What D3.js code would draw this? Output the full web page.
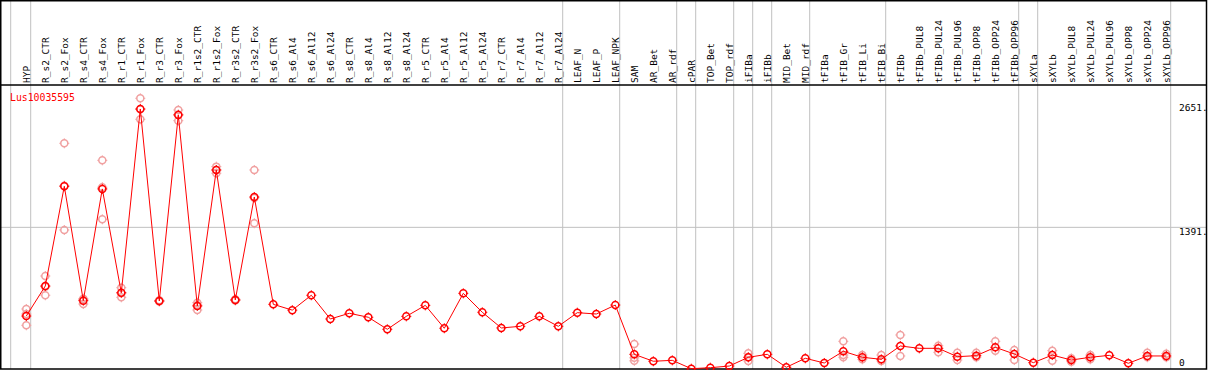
<!DOCTYPE html>
<html>
<head>
<meta charset="utf-8">
<script src="https://cdn.jsdelivr.net/npm/d3@7"></script>
<style>
  body { margin: 0; background: #fff; }
  text { font-family: "DejaVu Sans Mono", monospace; }
</style>
</head>
<body>
<div id="chart"></div>
<script>
// expression profile for one gene, mean (line) + replicates (pale circles)
var geneName = "Lus10035595";

var categories = [
  "HYP", "R_s2_CTR", "R_s2_Fox", "R_s4_CTR", "R_s4_Fox", "R_r1_CTR", "R_r1_Fox",
  "R_r3_CTR", "R_r3_Fox", "R_r1s2_CTR", "R_r1s2_Fox", "R_r3s2_CTR", "R_r3s2_Fox",
  "R_s6_CTR", "R_s6_Al4", "R_s6_Al12", "R_s6_Al24", "R_s8_CTR", "R_s8_Al4",
  "R_s8_Al12", "R_s8_Al24", "R_r5_CTR", "R_r5_Al4", "R_r5_Al12", "R_r5_Al24",
  "R_r7_CTR", "R_r7_Al4", "R_r7_Al12", "R_r7_Al24", "LEAF_N", "LEAF_P", "LEAF_NPK",
  "SAM", "AR_Bet", "AR_rdf", "cPAR", "TOP_Bet", "TOP_rdf", "iFIBa", "iFIBb",
  "MID_Bet", "MID_rdf", "tFIBa", "tFIB_Gr", "tFIB_Li", "tFIB_Bi", "tFIBb",
  "tFIBb_PUL8", "tFIBb_PUL24", "tFIBb_PUL96", "tFIBb_OPP8", "tFIBb_OPP24", "tFIBb_OPP96",
  "sXYLa", "sXYLb", "sXYLb_PUL8", "sXYLb_PUL24", "sXYLb_PUL96", "sXYLb_OPP8",
  "sXYLb_OPP24", "sXYLb_OPP96"
];

var meanValues = [
  520, 815, 1794, 671, 1768, 749, 2553, 668, 2494, 619, 1954, 678, 1689,
  635, 578, 724, 491, 547, 508, 390, 517, 625, 400, 743, 557, 403, 419, 517, 419,
  553, 540, 628, 144, 76, 85, 3, 13, 29, 115, 144, 17, 105, 59, 174, 115, 95,
  226, 203, 203, 121, 131, 213, 147, 62, 137, 88, 115, 134, 56, 128, 128
];

// replicate values (only where they show apart from the mean)
var repValues = [
  [589, 429, 540], [913, 724, 808], [2216, 1365, 1800], [684, 638, 690],
  [2049, 1470, 1785], [798, 704, 745], [2658, 2452, 2550], [675, 662, 668],
  [2543, 2438, 2500], [651, 579, 627], [1987, 1922, 1954], [685, 672, 678],
  [1954, 1431, 1680],
  [], [], [], [], [], [], [], [], [], [], [], [], [], [], [], [], [], [], [],
  [245, 110, 80], [], [], [], [], [], [154, 79, 115], [], [], [], [],
  [272, 115, 137], [137, 95], [137, 79], [334, 128], [], [229, 164], [160, 88],
  [160, 115], [272, 180], [187, 88], [], [180, 82], [105, 72], [137, 95], [],
  [], [160, 115], [150, 115]
];

// last sample of each group: a grey divider is drawn right of it
var groupEnds = ["HYP", "R_r7_Al24", "LEAF_NPK", "AR_rdf", "cPAR", "TOP_rdf", "iFIBa",
  "iFIBb", "MID_rdf", "tFIB_Bi", "tFIBb_OPP96", "sXYLa", "sXYLb_OPP96"];

var yTicks = [0, 1391, 2651];
var yMax = 2651;

var width = 1209, height = 370;
var headerY = 85, bottomY = 369, rightX = 1206.5;

var svg = d3.select("#chart").append("svg")
  .attr("width", width)
  .attr("height", height);

var x = d3.scalePoint()
  .domain(categories)
  .range([26.3, 1166.3]);

var y = d3.scaleLinear()
  .domain([0, yMax])
  .range([bottomY, 99]);

// vertical dividers
var dividers = [x("HYP") - 15.6].concat(groupEnds.map(function(c) { return x(c) + 4.4; }));
svg.selectAll(".vdiv").data(dividers).enter().append("line")
  .attr("x1", function(d) { return d; })
  .attr("x2", function(d) { return d; })
  .attr("y1", 0).attr("y2", bottomY)
  .attr("stroke", "#c0c0c0").attr("stroke-width", 1);

// horizontal middle grid line
svg.append("line")
  .attr("x1", 1).attr("x2", rightX)
  .attr("y1", y(1391)).attr("y2", y(1391))
  .attr("stroke", "#c0c0c0").attr("stroke-width", 1);

// frame + header separator
svg.append("rect")
  .attr("x", 0.75).attr("y", 0.75)
  .attr("width", rightX - 0.75).attr("height", bottomY - 0.75)
  .attr("fill", "none").attr("stroke", "#000").attr("stroke-width", 1.5);
svg.append("line")
  .attr("x1", 0).attr("x2", rightX)
  .attr("y1", headerY).attr("y2", headerY)
  .attr("stroke", "#000").attr("stroke-width", 1.5);

// sample names, rotated
svg.selectAll(".catlabel").data(categories).enter().append("text")
  .attr("transform", function(d) { return "translate(" + x(d) + "," + 83 + ") rotate(-90)"; })
  .attr("dy", "0.35em")
  .attr("font-size", "9.5px")
  .attr("fill", "#000")
  .text(function(d) { return d; });

// y labels on the right
svg.selectAll(".ylabel").data(yTicks).enter().append("text")
  .attr("x", 1179)
  .attr("y", function(d) { return Math.max(107, Math.min(362, y(d) + 4.4)); })
  .attr("dominant-baseline", "central")
  .attr("font-size", "9.5px")
  .text(function(d) { return d === 0 ? "0" : d + "."; });

// gene name
svg.append("text")
  .attr("x", 10).attr("y", 101)
  .attr("font-size", "9.8px")
  .attr("fill", "red")
  .text(geneName);

function marker(g, cx, cy, color) {
  g.append("circle")
    .attr("cx", cx).attr("cy", cy).attr("r", 3.5)
    .attr("fill", "none").attr("stroke", color).attr("stroke-width", 1.5);
  var t = [[0, -1], [0, 1], [-1, 0], [1, 0]];
  t.forEach(function(p) {
    g.append("line")
      .attr("x1", cx + p[0] * 3.5).attr("y1", cy + p[1] * 3.5)
      .attr("x2", cx + p[0] * 5).attr("y2", cy + p[1] * 5)
      .attr("stroke", color).attr("stroke-width", 1);
  });
}

// replicates
var reps = svg.append("g");
repValues.forEach(function(vals, i) {
  vals.forEach(function(v) { marker(reps, x(categories[i]), y(v), "#f0a0a0"); });
});

// mean line
var line = d3.line()
  .x(function(d, i) { return x(categories[i]); })
  .y(function(d) { return y(d); });
svg.append("path")
  .datum(meanValues)
  .attr("d", line)
  .attr("fill", "none")
  .attr("stroke", "red")
  .attr("stroke-width", 1);

var means = svg.append("g");
meanValues.forEach(function(v, i) { marker(means, x(categories[i]), y(v), "red"); });
</script>
</body>
</html>
